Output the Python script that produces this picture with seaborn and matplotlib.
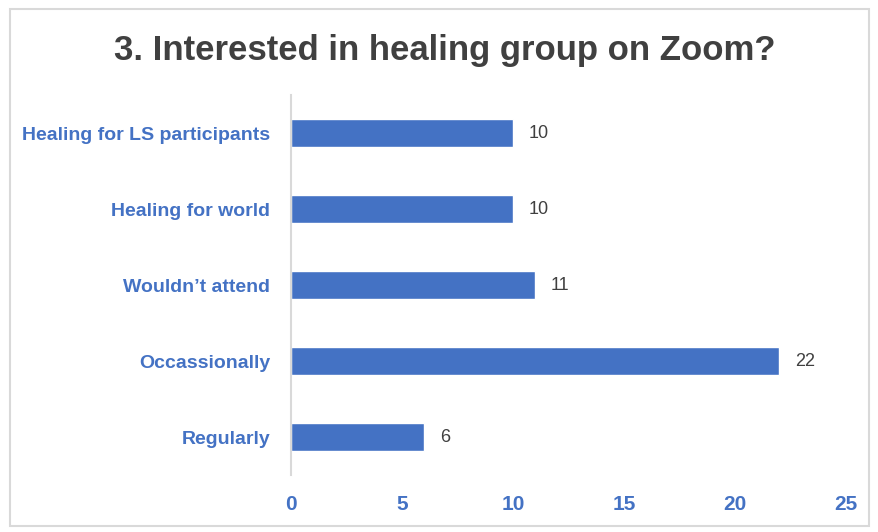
import matplotlib
matplotlib.use('Agg')
import matplotlib.pyplot as plt
import seaborn as sns
import pandas as pd
from matplotlib.patches import Rectangle

categories = ['Healing for LS participants', 'Healing for world', "Wouldn\u2019t attend",
              'Occassionally', 'Regularly']
counts = [10, 10, 11, 22, 6]
x_ticks = [0, 5, 10, 15, 20, 25]

BLUE = '#4472C4'


def main():
    sns.set_style('white')
    plt.rcParams['font.family'] = ['Liberation Sans', 'DejaVu Sans']

    df = pd.DataFrame({'category': categories, 'count': counts})

    fig = plt.figure(figsize=(8.79, 5.32), dpi=100)
    ax = fig.add_axes([0.331, 0.107, 0.6315, 0.7144])
    sns.barplot(data=df, x='count', y='category', color=BLUE, saturation=1,
                width=0.37, ax=ax)

    for i, v in enumerate(counts):
        ax.text(v + 0.7, i, str(v), va='center', ha='left', fontsize=13,
                color='#404040')

    ax.set_xlim(0, 25)
    ax.set_xticks(x_ticks)
    ax.set_xticklabels([str(t) for t in x_ticks], color=BLUE, fontweight='bold', fontsize=15)
    ax.set_yticks(range(len(categories)))
    ax.set_yticklabels(categories, color=BLUE, fontweight='bold', fontsize=14)
    ax.tick_params(axis='x', length=0, pad=14)
    ax.tick_params(axis='y', length=0, pad=15)
    ax.set_xlabel('')
    ax.set_ylabel('')
    for side in ['top', 'right', 'bottom']:
        ax.spines[side].set_visible(False)
    ax.spines['left'].set_color('#D9D9D9')
    ax.spines['left'].set_linewidth(1.5)

    fig.text(0.506, 0.905, '3. Interested in healing group on Zoom?', ha='center',
             va='center', fontsize=25, fontweight='bold', color='#404040')

    fig.patches.append(Rectangle((0.011, 0.012), 0.978, 0.972, transform=fig.transFigure,
                                 fill=False, edgecolor='#D9D9D9', linewidth=1.5))

    fig.savefig('out.png', dpi=100)


if __name__ == '__main__':
    main()
